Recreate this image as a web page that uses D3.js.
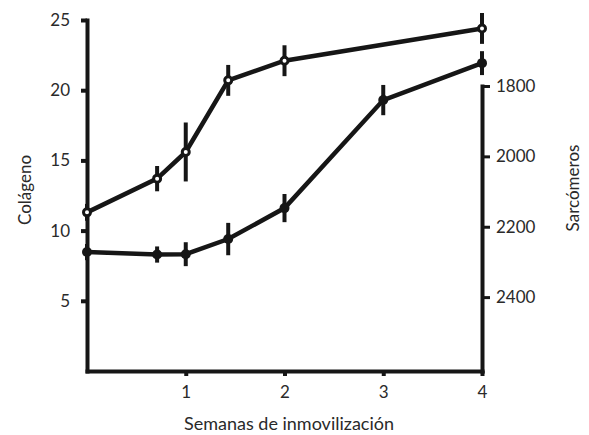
<!DOCTYPE html>
<html>
<head>
<meta charset="utf-8">
<script src="https://cdn.jsdelivr.net/npm/d3@7"></script>
<style>
  html, body { margin: 0; padding: 0; background: #fff; }
  svg { display: block; }
  text { font-family: Lato, "Noto Sans", sans-serif; fill: #2a2a2a; }
</style>
</head>
<body>
<svg id="chart" width="589" height="435"></svg>
<script>
// Colágeno (eje izquierdo) y número de sarcómeros (eje derecho, invertido)
const semanasColageno = [0, 0.71, 1, 1.43, 2, 4];
const colageno = [11.3, 13.7, 15.6, 20.7, 22.1, 24.4];
const errColageno = [0.6, 0.9, 2.1, 1.1, 1.1, 1.1];

const semanasSarcomeros = [0, 0.71, 1, 1.43, 2, 3, 4];
const sarcomeros = [2272, 2279, 2278, 2235, 2147, 1840, 1735];
const errSarcomeros = [23, 23, 34, 46, 40, 43, 34];

const ticksSemanas = [1, 2, 3, 4];
const ticksColageno = [5, 10, 15, 20, 25];
const ticksSarcomeros = [1800, 2000, 2200, 2400];

const svg = d3.select("#chart");
const ink = "#161616";
const fmt = d => String(d);

const x = d3.scaleLinear().domain([0, 4]).range([87, 482]);
const yL = d3.scaleLinear().domain([0, 25]).range([371, 20]);
const yR = d3.scaleLinear().domain([1800, 2610]).range([86, 371]);

function styleAxis(g, w) {
  g.select(".domain").attr("stroke", ink).attr("stroke-width", w).attr("stroke-linecap", "square");
  g.selectAll(".tick line").attr("stroke", ink).attr("stroke-width", 4);
  g.selectAll(".tick text").attr("font-size", 17).style("fill", "#2a2a2a");
}

// Ejes
const gx = svg.append("g").attr("transform", "translate(0,371)")
  .call(d3.axisBottom(x).tickValues(ticksSemanas).tickFormat(fmt)
    .tickSize(5).tickSizeOuter(0).tickPadding(10));
styleAxis(gx, 4);

const gl = svg.append("g").attr("transform", "translate(87,0)")
  .call(d3.axisLeft(yL).tickValues(ticksColageno).tickFormat(fmt)
    .tickSize(6).tickSizeOuter(0).tickPadding(11));
styleAxis(gl, 4);

const gr = svg.append("g").attr("transform", "translate(482,0)")
  .call(d3.axisRight(yR).tickValues(ticksSarcomeros).tickFormat(fmt)
    .tickSize(8).tickSizeOuter(0).tickPadding(6));
styleAxis(gr, 4);
gr.selectAll(".tick line").attr("stroke-width", 3);

// Títulos de ejes
svg.append("text").attr("x", 289).attr("y", 430).attr("text-anchor", "middle")
  .attr("font-size", 18).text("Semanas de inmovilización");
svg.append("text").attr("transform", "translate(31,190) rotate(-90)").attr("text-anchor", "middle")
  .attr("font-size", 17).text("Colágeno");
svg.append("text").attr("transform", "translate(579,188) rotate(-90)").attr("text-anchor", "middle")
  .attr("font-size", 17).text("Sarcómeros");

// Series
const serieC = semanasColageno.map((s, i) => ({ s, v: colageno[i], e: errColageno[i] }));
const serieS = semanasSarcomeros.map((s, i) => ({ s, v: sarcomeros[i], e: errSarcomeros[i] }));

function drawSeries(data, y, open) {
  const line = d3.line().x(d => x(d.s)).y(d => y(d.v));
  svg.append("path").datum(data).attr("d", line)
    .attr("fill", "none").attr("stroke", ink).attr("stroke-width", 4.5).attr("stroke-linejoin", "miter");
  svg.append("g").selectAll("line").data(data).join("line")
    .attr("x1", d => x(d.s)).attr("x2", d => x(d.s))
    .attr("y1", d => y(d.v - d.e)).attr("y2", d => y(d.v + d.e))
    .attr("stroke", ink).attr("stroke-width", 4);
  svg.append("g").selectAll("circle").data(data).join("circle")
    .attr("cx", d => x(d.s)).attr("cy", d => y(d.v))
    .attr("r", open ? 3.5 : 5)
    .attr("fill", open ? "#fff" : ink)
    .attr("stroke", ink).attr("stroke-width", open ? 3 : 0);
}

drawSeries(serieC, yL, true);
drawSeries(serieS, yR, false);
</script>
</body>
</html>
